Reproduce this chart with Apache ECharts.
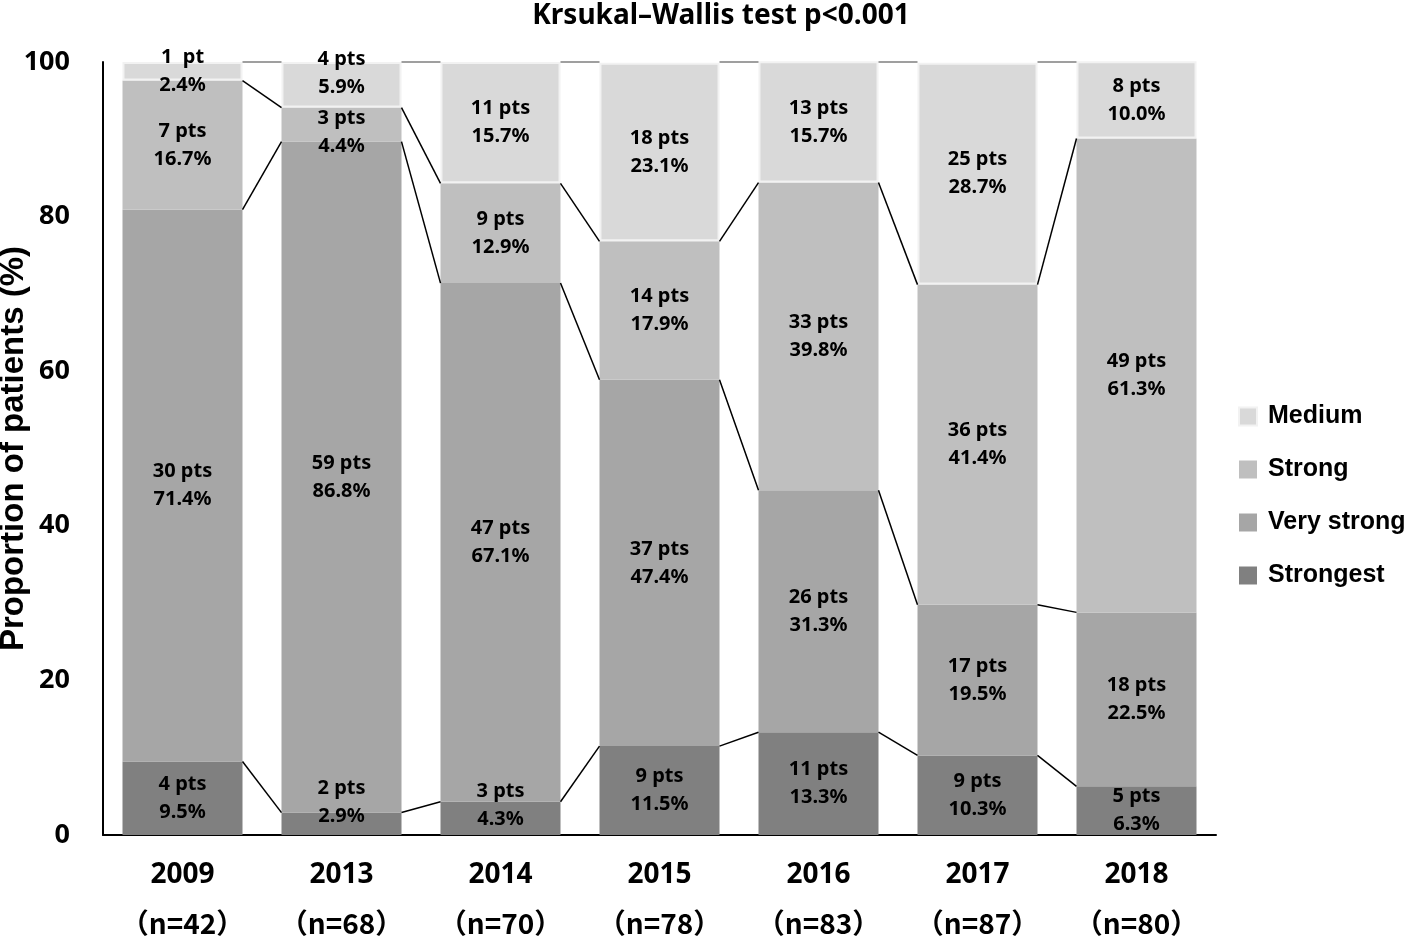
<!DOCTYPE html>
<html><head><meta charset="utf-8">
<script src="https://cdn.jsdelivr.net/npm/echarts@6/dist/echarts.min.js"></script>
<style>html,body{margin:0;padding:0;background:#fff}#c{width:1405px;height:937px}</style>
</head><body><div id="c"></div>
<script>
const years = ['2009','2013','2014','2015','2016','2017','2018'];
const totals = [42, 68, 70, 78, 83, 87, 80];
const seriesNames = ['Strongest','Very strong','Strong','Medium'];
const strongestPct = [9.5, 2.9, 4.3, 11.5, 13.3, 10.3, 6.3];
const veryStrongPct = [71.4, 86.8, 67.1, 47.4, 31.3, 19.5, 22.5];
const strongPct = [16.7, 4.4, 12.9, 17.9, 39.8, 41.4, 61.3];
const mediumPct = [2.4, 5.9, 15.7, 23.1, 15.7, 28.7, 10.0];
const strongestPts = [4, 2, 3, 9, 11, 9, 5];
const veryStrongPts = [30, 59, 47, 37, 26, 17, 18];
const strongPts = [7, 3, 9, 14, 33, 36, 49];
const mediumPts = [1, 4, 11, 18, 13, 25, 8];
const yTicks = [0, 20, 40, 60, 80, 100];

const pctArr = [strongestPct, veryStrongPct, strongPct, mediumPct];
const ptsArr = [strongestPts, veryStrongPts, strongPts, mediumPts];
const colors = ['#808080', '#a6a6a6', '#bfbfbf', '#d9d9d9'];
const BAR_W = 120;
// label vertical nudges (style only) for crowded small segments
const labelNudge = {'3-1': -12, '2-1': 8, '0-1': -21, '0-2': -13};

const cum = years.map((_, i) => {
  let s = 0; const out = [];
  for (let k = 0; k < 4; k++) { s += pctArr[k][i]; out.push(k === 3 ? 100 : s); }
  return out;
});

const FONT = 'Noto Sans';
const lbl = { fontFamily: FONT, fontWeight: 'bold', fontSize: 20, color: '#000', lineHeight: 28 };

const barSeries = seriesNames.map((name, k) => ({
  name, type: 'bar', stack: 'all', barWidth: BAR_W,
  itemStyle: Object.assign({ color: colors[k] }, k === 3 ? { borderColor: '#f2f2f2', borderWidth: 2 } : {}),
  label: Object.assign({ show: true, position: 'inside',
    formatter: p => {
      const n = ptsArr[k][p.dataIndex];
      return (n === 1 ? '1  pt' : n + ' pts') + '\n' + pctArr[k][p.dataIndex].toFixed(1) + '%';
    } }, lbl),
  data: pctArr[k].map((v, i) => {
    const off = labelNudge[k + '-' + i];
    return off ? { value: v, label: { offset: [0, off] } } : v;
  }),
  z: 2
}));

const connector = {
  type: 'custom', name: 'connectors', silent: true, z: 5,
  data: years.slice(0, -1).map((_, i) => [i]),
  renderItem: (params, api) => {
    const i = api.value(0);
    const children = [];
    for (let k = 0; k < 4; k++) {
      const a = api.coord([i, cum[i][k]]);
      const b = api.coord([i + 1, cum[i + 1][k]]);
      children.push({ type: 'line',
        shape: { x1: a[0] + BAR_W / 2, y1: a[1], x2: b[0] - BAR_W / 2, y2: b[1] },
        style: { stroke: k === 3 ? '#7f7f7f' : '#000', lineWidth: 1.5 } });
    }
    return { type: 'group', children };
  }
};

const chart = echarts.init(document.getElementById('c'));
chart.setOption({
  animation: false,
  backgroundColor: '#fff',
  title: { text: 'Krsukal\u2013Wallis test p<0.001', left: 716, top: -3, textAlign: 'center',
    textStyle: { fontFamily: FONT, fontWeight: 'bold', fontSize: 28, color: '#000' } },
  grid: { left: 103, right: 189, top: 62, bottom: 102, containLabel: false, outerBoundsMode: 'none' },
  legend: { orient: 'vertical', left: 1233, top: 399, itemWidth: 18, itemHeight: 18, itemGap: 28,
    icon: 'rect', data: ['Medium', 'Strong', 'Very strong', 'Strongest'],
    textStyle: { fontFamily: 'Liberation Sans', fontWeight: 'bold', fontSize: 25, color: '#000', padding: [0, 0, 0, 6] } },
  xAxis: { type: 'category', data: years,
    axisLine: { lineStyle: { color: '#000', width: 2 } }, axisTick: { show: false },
    axisLabel: { margin: 16, interval: 0,
      formatter: (v, i) => '{y|' + v + '}\n{n|\uff08n=' + totals[i] + '\uff09}',
      rich: { y: { fontFamily: FONT, fontWeight: 'bold', fontSize: 28, color: '#000', lineHeight: 48 },
              n: { fontFamily: 'Noto Sans CJK JP', fontWeight: 'bold', fontSize: 28, color: '#000', lineHeight: 48 } } } },
  yAxis: { type: 'value', min: 0, max: 100, interval: 20,
    name: 'Proportion of patients (%)', nameLocation: 'middle', nameGap: 73, nameRotate: 90,
    nameMoveOverlap: false,
    nameTextStyle: { fontFamily: 'Liberation Sans', fontWeight: 'bold', fontSize: 33, color: '#000' },
    axisLine: { show: true, lineStyle: { color: '#000', width: 2 } }, axisTick: { show: false },
    splitLine: { show: false },
    axisLabel: { margin: 33, fontFamily: FONT, fontWeight: 'bold', fontSize: 27, color: '#000',
      formatter: v => yTicks.includes(v) ? String(v) : '' } },
  series: [...barSeries, connector]
});
</script></body></html>
